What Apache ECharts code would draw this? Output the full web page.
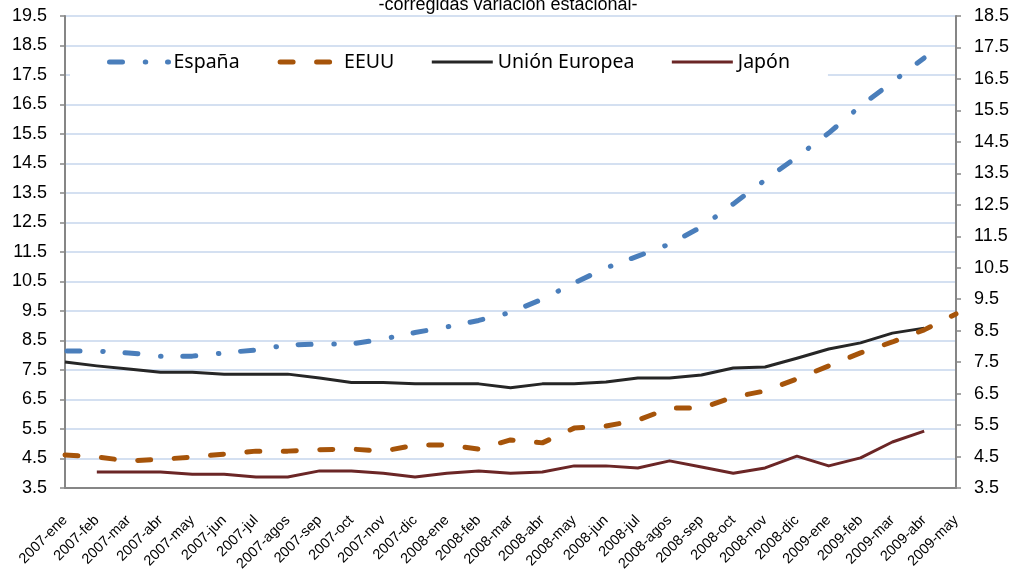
<!DOCTYPE html>
<html>
<head>
<meta charset="utf-8">
<script src="https://cdn.jsdelivr.net/npm/echarts@6/dist/echarts.min.js"></script>
<style>
html,body{margin:0;padding:0;background:#fff;}
#c{width:1016px;height:579px;}
</style>
</head>
<body>
<div id="c"></div>
<script>
const categories = ['2007-ene','2007-feb','2007-mar','2007-abr','2007-may','2007-jun','2007-jul','2007-agos','2007-sep','2007-oct','2007-nov','2007-dic','2008-ene','2008-feb','2008-mar','2008-abr','2008-may','2008-jun','2008-jul','2008-agos','2008-sep','2008-oct','2008-nov','2008-dic','2009-ene','2009-feb','2009-mar','2009-abr','2009-may'];
const espana = [8.14,8.14,8.08,7.97,7.97,8.08,8.18,8.35,8.38,8.38,8.55,8.77,8.96,9.18,9.45,9.9,10.45,10.96,11.36,11.77,12.35,13.13,13.94,14.72,15.53,16.45,17.26,18.08,null];
const eeuu = [4.62,4.55,4.42,4.47,4.55,4.65,4.75,4.75,4.8,4.82,4.75,4.95,4.96,4.82,5.13,5.03,5.53,5.6,5.8,6.21,6.21,6.58,6.79,7.2,7.64,8.08,8.45,8.86,9.4];
const ue = [7.77,7.64,7.53,7.42,7.42,7.36,7.36,7.36,7.23,7.08,7.08,7.03,7.03,7.03,6.9,7.03,7.03,7.09,7.23,7.23,7.33,7.57,7.6,7.9,8.21,8.42,8.75,8.92,null];
const japon = [null,4.04,4.04,4.04,3.97,3.97,3.87,3.87,4.08,4.08,4.0,3.87,4.0,4.08,4.0,4.04,4.25,4.25,4.18,4.42,4.21,4.0,4.18,4.58,4.25,4.52,5.06,5.43,null];
const seriesNames = ['España','EEUU','Unión Europea','Japón'];
const titleText = '-corregidas variación estacional-';

const chart = echarts.init(document.getElementById('c'), null, {renderer:'canvas'});
const axisColor = '#868686';
const labelFont = {fontFamily:'Liberation Sans, Arial, sans-serif', fontSize:18, color:'#000'};
const noSym = {opacity:0, borderWidth:0};
chart.setOption({
  animation:false,
  backgroundColor:'#fff',
  title:{text:titleText, left:'center', top:-4, padding:0,
    textStyle:{fontFamily:'Liberation Sans, Arial, sans-serif', fontSize:18, fontWeight:'normal', color:'#000'}},
  grid:{left:65, right:60, top:16, bottom:91, containLabel:false},
  legend:{
    left:70, top:48, padding:[4,38,7,35], backgroundColor:'#fff',
    itemWidth:61, itemHeight:20, itemGap:36,
    textStyle:{fontFamily:'Noto Sans, sans-serif', fontSize:19.5, color:'#000'},
    data:[
      {name:seriesNames[0], lineStyle:{width:5}, itemStyle:noSym},
      {name:seriesNames[1], lineStyle:{width:5}, itemStyle:noSym},
      {name:seriesNames[2], lineStyle:{width:3}, itemStyle:noSym},
      {name:seriesNames[3], lineStyle:{width:3}, itemStyle:noSym}
    ]
  },
  xAxis:{
    type:'category', data:categories, boundaryGap:false,
    axisLine:{lineStyle:{color:axisColor, width:2}},
    axisTick:{show:false},
    axisLabel:{rotate:45, interval:0, margin:30, fontFamily:'Liberation Sans, Arial, sans-serif', fontSize:14.5, color:'#000'},
    splitLine:{show:false}
  },
  yAxis:[
    {type:'value', min:3.5, max:19.5, interval:1, position:'left',
     axisLine:{show:true, lineStyle:{color:axisColor, width:2}},
     axisTick:{show:true, length:5, lineStyle:{color:axisColor, width:1.5}},
     axisLabel:{...labelFont, margin:18, formatter:v=>v.toFixed(1)},
     splitLine:{show:true, lineStyle:{color:'#c6d6ec', width:1.5}}},
    {type:'value', min:3.5, max:18.5, interval:1, position:'right',
     axisLine:{show:true, lineStyle:{color:axisColor, width:2}},
     axisTick:{show:true, length:5, lineStyle:{color:axisColor, width:1.5}},
     axisLabel:{...labelFont, margin:18, formatter:v=>v.toFixed(1)},
     splitLine:{show:false}}
  ],
  series:[
    {name:seriesNames[0], type:'line', data:espana, yAxisIndex:0, symbol:'none', z:5,
     lineStyle:{color:'#4a7ebb', width:5, type:[13,22.75,0.5,21.75], dashOffset:-2, cap:'round', join:'round'},
     itemStyle:{color:'#4a7ebb'}},
    {name:seriesNames[1], type:'line', data:eeuu, yAxisIndex:0, symbol:'none', z:4,
     lineStyle:{color:'#a6540a', width:5, type:[13,23.5], cap:'round', join:'round'},
     itemStyle:{color:'#a6540a'}},
    {name:seriesNames[2], type:'line', data:ue, yAxisIndex:0, symbol:'none', z:3,
     lineStyle:{color:'#262626', width:3, join:'round'},
     itemStyle:{color:'#262626'}},
    {name:seriesNames[3], type:'line', data:japon, yAxisIndex:0, symbol:'none', z:3,
     lineStyle:{color:'#6b2626', width:3, join:'round'},
     itemStyle:{color:'#6b2626'}}
  ]
});
</script>
</body>
</html>
